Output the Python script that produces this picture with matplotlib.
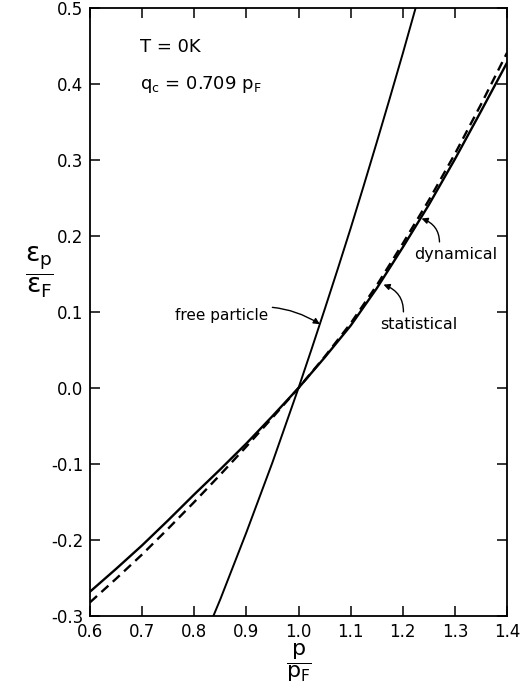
import numpy as np
import matplotlib
matplotlib.use("Agg")
import matplotlib.pyplot as plt

plt.rcParams['font.family'] = ['DejaVu Sans']
plt.rcParams['mathtext.default'] = 'regular'
plt.rcParams['axes.unicode_minus'] = False

# quasiparticle energy vs momentum, T = 0
p_dyn = np.array([0.60, 0.65, 0.70, 0.75, 0.80, 0.85, 0.90, 0.95, 1.00,
                  1.05, 1.10, 1.15, 1.20, 1.25, 1.30, 1.35, 1.40])
e_dyn = np.array([-0.268, -0.238, -0.207, -0.174, -0.140, -0.107, -0.073, -0.037, 0.000,
                  0.040, 0.082, 0.131, 0.185, 0.241, 0.301, 0.364, 0.428])

p_stat = p_dyn
e_stat = np.array([-0.282, -0.251, -0.219, -0.185, -0.150, -0.114, -0.077, -0.039, 0.000,
                   0.041, 0.085, 0.135, 0.190, 0.247, 0.308, 0.373, 0.441])

p_free = np.array([0.83, 0.85, 0.875, 0.90, 0.925, 0.95, 0.975, 1.00, 1.025, 1.05,
                   1.075, 1.10, 1.125, 1.15, 1.175, 1.20, 1.23])
e_free = np.array([-0.311, -0.278, -0.234, -0.190, -0.144, -0.098, -0.049, 0.000, 0.051, 0.103,
                   0.156, 0.210, 0.266, 0.323, 0.381, 0.440, 0.513])

xticks = [0.6, 0.7, 0.8, 0.9, 1.0, 1.1, 1.2, 1.3, 1.4]
yticks = [-0.3, -0.2, -0.1, 0.0, 0.1, 0.2, 0.3, 0.4, 0.5]

fig = plt.figure(figsize=(5.26, 6.92), dpi=100)
ax = fig.add_axes([90/526, 76/692, 417/526, 608/692])

ax.plot(p_dyn, e_dyn, color='black', lw=1.7)
ax.plot(p_stat, e_stat, color='black', lw=1.7, dashes=(4, 2.5))
ax.plot(p_free, e_free, color='black', lw=1.4)

ax.set_xlim(0.6, 1.4)
ax.set_ylim(-0.3, 0.5)
ax.set_xticks(xticks)
ax.set_yticks(yticks)
ax.set_xticklabels(['%.1f' % v for v in xticks])
ax.set_yticklabels(['%.1f' % v for v in yticks])
ax.tick_params(direction='in', length=7, width=1.1, labelsize=12,
               top=True, right=True, pad=5)
for s in ax.spines.values():
    s.set_linewidth(1.3)

ax.set_xlabel(r'$\dfrac{p}{p_F}$', fontsize=16, labelpad=0)
ax.set_ylabel(r'$\dfrac{\varepsilon_p}{\varepsilon_F}$', fontsize=19,
              rotation=0, labelpad=8, y=0.52)

ax.text(0.695, 0.449, 'T = 0K', fontsize=13, va='center')
ax.text(0.695, 0.399, r'$q_c$ = 0.709 $p_F$', fontsize=13, va='center')

arrow = dict(arrowstyle='-|>', color='black', lw=1.0, mutation_scale=9)
ax.annotate('free particle', xy=(1.041, 0.084), xytext=(0.763, 0.096),
            fontsize=11, ha='left', va='center',
            arrowprops=dict(arrow, connectionstyle='arc3,rad=-0.25',
                            shrinkA=1, shrinkB=0))
ax.annotate('dynamical', xy=(1.236, 0.223), xytext=(1.222, 0.175),
            fontsize=11.5, ha='left', va='center',
            arrowprops=dict(arrow, connectionstyle='arc3,rad=0.4',
                            relpos=(0.3, 1.0), shrinkA=2, shrinkB=0))
ax.annotate('statistical', xy=(1.163, 0.136), xytext=(1.156, 0.083),
            fontsize=11.5, ha='left', va='center',
            arrowprops=dict(arrow, connectionstyle='arc3,rad=0.4',
                            relpos=(0.3, 1.0), shrinkA=2, shrinkB=0))

fig.savefig('out.png', dpi=100)
